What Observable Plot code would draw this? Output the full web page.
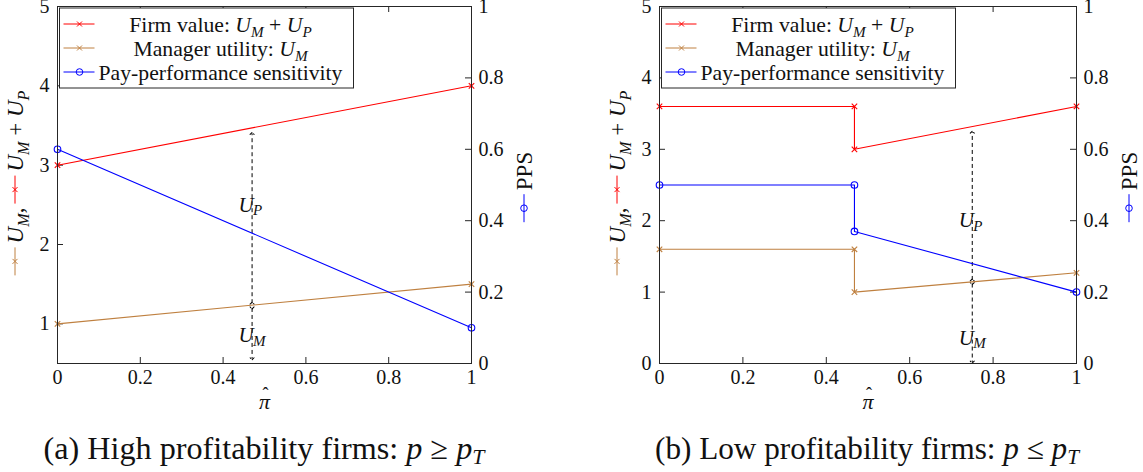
<!DOCTYPE html>
<html><head><meta charset="utf-8">
<script src="https://cdn.jsdelivr.net/npm/d3@7"></script>
<script src="https://cdn.jsdelivr.net/npm/@observablehq/plot@0.6"></script>
<style>
body{margin:0;background:#fff;font-family:"Liberation Serif","DejaVu Serif","Noto Serif","Tinos","FreeSerif","Nimbus Roman","Times New Roman",serif;}
#wrap{position:relative;width:1143px;height:472px;overflow:hidden;background:#fff;}
.panel{position:absolute;top:0;}
.cap{position:absolute;bottom:6px;font-size:29px;white-space:nowrap;transform:translateX(-50%);line-height:1.1;color:#111;}
.cap sub{font-size:0.68em;vertical-align:-0.22em;line-height:0;}
</style></head><body><div id="wrap"></div>
<script>
// ---------- data ----------
const xTicks = [0, 0.2, 0.4, 0.6, 0.8, 1];
const ppsTicks = [0, 0.2, 0.4, 0.6, 0.8, 1];

// Panel (a): high profitability
const aPi = [0, 1];
const aFirm = [3, 4];
const aMgr = [1, 1.5];
const aPPS = [0.6, 0.1];
const aLeftDomain = [0.5, 5];
const aLeftTicks = [1, 2, 3, 4, 5];
const aArrowX = 0.47;
const aArrowUP = [1.26, 3.40];
const aArrowUM = [1.20, 0.56];
const aLabelY = [2.5, 0.85];

// Panel (b): low profitability
const bPi = [0, 0.4675, 0.4675, 1];
const bFirm = [3.6, 3.6, 3.0, 3.6];
const bMgr = [1.6, 1.6, 1.0, 1.27];
const bPPS = [0.5, 0.5, 0.37, 0.2];
const bLeftDomain = [0, 5];
const bLeftTicks = [0, 1, 2, 3, 4, 5];
const bArrowX = 0.75;
const bArrowUP = [1.17, 3.24];
const bArrowUM = [1.12, 0.02];
const bLabelY = [2.0, 0.35];

const legendLabels = [
  [["Firm value: ","r"],["U","i"],["M","s"],[" + ","r"],["U","i"],["P","s"]],
  [["Manager utility: ","r"],["U","i"],["M","s"]],
  [["Pay-performance sensitivity","r"]]
];
const captions = [
  '(a) High profitability firms: <i>p</i> ≥ <i>p</i><sub><i>T</i></sub>',
  '(b) Low profitability firms: <i>p</i> ≤ <i>p</i><sub><i>T</i></sub>'
];

// ---------- style ----------
const red = "#ff0000", brown = "#bf8040", blue = "#0000ff", ink = "#262626";
const FONT = "'Liberation Serif','DejaVu Serif','Noto Serif','Tinos','FreeSerif','Nimbus Roman','Times New Roman',serif";

function mathText(sel, parts, size) {
  let shifted = false;
  for (const [t, s] of parts) {
    const ts = sel.append("tspan").text(t);
    if (s === "i" || s === "s") ts.attr("font-style", "italic");
    if (s === "s") { ts.attr("font-size", size * 0.7); if (!shifted) { ts.attr("dy", size * 0.25); shifted = true; } }
    else if (shifted) { ts.attr("dy", -size * 0.25); shifted = false; }
  }
}
function marker(g, x, y, c, m) {
  if (m === "o") g.append("circle").attr("cx", x).attr("cy", y).attr("r", 3.3).attr("fill", "none").attr("stroke", c);
  else g.append("path").attr("d", `M${x-2.5},${y-2.5}L${x+2.5},${y+2.5}M${x-2.5},${y+2.5}L${x+2.5},${y-2.5}`).attr("stroke", c);
}
function legend(svg, x0, y0) {
  const g = d3.select(svg).append("g").attr("transform", `translate(${x0},${y0})`)
    .attr("font-family", FONT).attr("fill", "#111");
  g.append("rect").attr("width", 294).attr("height", 80).attr("fill", "white").attr("stroke", ink);
  const cols = [red, brown, blue], ms = ["x", "x", "o"];
  const texts = legendLabels.map((parts, i) => {
    const y = 16 + i * 24;
    g.append("line").attr("x1", 4).attr("x2", 35).attr("y1", y).attr("y2", y).attr("stroke", cols[i]);
    marker(g, 20, y, cols[i], ms[i]);
    const t = g.append("text").attr("x", 161).attr("y", y).attr("dy", "0.35em")
      .attr("text-anchor", "middle").attr("font-size", 21);
    mathText(t, parts, 21);
    return t;
  });
  // fit the widest entry to the reference width (~244px)
  const w = texts[2].node().getComputedTextLength();
  const fs = Math.max(17, Math.min(23, 21 * 244 / w));
  texts.forEach((t, i) => { t.attr("font-size", fs); t.selectAll("tspan").remove(); mathText(t, legendLabels[i], fs); });
}
function sideLabel(svg, cx, cy, items, fs) {
  const g = d3.select(svg).append("g").attr("font-family", FONT).attr("font-size", fs)
    .attr("fill", "#111").attr("text-anchor", "start");
  let x = 0;
  for (const it of items) {
    if (it.c) {
      g.append("line").attr("x1", x).attr("x2", x + 28).attr("y1", 0).attr("y2", 0).attr("stroke", it.c);
      marker(g, x + 14, 0, it.c, it.m);
      x += 32;
    } else {
      const t = g.append("text").attr("x", x).attr("y", 0).attr("dy", "0.35em").attr("text-anchor", "start");
      mathText(t, it.parts, fs);
      x += t.node().getComputedTextLength() + 4;
    }
  }
  g.attr("transform", `translate(${cx},${cy + x / 2}) rotate(-90)`);
}

function panel(o) {
  const H = 420, mt = 6, mb = 57;
  const plotW = o.width - o.ml - o.mr, plotH = H - mt - mb;
  const [lo, hi] = o.leftDomain;
  const toLeft = p => lo + p * (hi - lo);
  const toPPS = v => (v - lo) / (hi - lo);
  const fmt = v => String(+(+v).toFixed(2));
  const rows = o.pi.map((x, i) => ({x, firm: o.firm[i], mgr: o.mgr[i], pps: toLeft(o.pps[i])}));
  const ppsL = ppsTicks.map(toLeft);
  const arrows = [{x: o.ax, y1: o.up[0], y2: o.up[1]}, {x: o.ax, y1: o.um[0], y2: o.um[1]}];
  const labels = [{x: o.ax, y: o.ly[0], main: "U", sub: "P"}, {x: o.ax, y: o.ly[1], main: "U", sub: "M"}];
  return Plot.plot({
    width: o.width, height: H, marginTop: mt, marginBottom: mb, marginLeft: o.ml, marginRight: o.mr,
    style: {fontFamily: FONT, fontSize: "20px", overflow: "visible", background: "transparent", color: "#111"},
    x: {domain: [0, 1], label: null},
    y: {domain: o.leftDomain, label: null},
    marks: [
      Plot.axisX(xTicks, {tickSize: 0, tickPadding: 6, tickFormat: fmt, label: null}),
      Plot.axisY(o.leftTicks, {anchor: "left", tickSize: 0, tickPadding: 8, tickFormat: fmt, label: null}),
      Plot.axisY(ppsL, {anchor: "right", tickSize: 0, tickPadding: 7, tickFormat: v => fmt(toPPS(v)), label: null}),
      Plot.tickX(xTicks, {x: d => d, insetTop: plotH - 6, stroke: ink}),
      Plot.tickX(xTicks, {x: d => d, insetBottom: plotH - 6, stroke: ink}),
      Plot.tickY(o.leftTicks, {y: d => d, insetRight: plotW - 6, stroke: ink}),
      Plot.tickY(ppsL, {y: d => d, insetLeft: plotW - 6, stroke: ink}),
      Plot.link(arrows, {x1: "x", x2: "x", y1: "y1", y2: "y2", stroke: "#000", strokeWidth: 1,
        strokeDasharray: "4,3", markerStart: "arrow", markerEnd: "arrow"}),
      Plot.text(labels, {x: "x", y: "y", text: "main", dx: -6, fontStyle: "italic", fontSize: 21, fill: "#111"}),
      Plot.text(labels, {x: "x", y: "y", text: "sub", dx: 1, dy: 5, textAnchor: "start", fontStyle: "italic", fontSize: 15, fill: "#111"}),
      Plot.line(rows, {x: "x", y: "mgr", stroke: brown, strokeWidth: 1.1}),
      Plot.line(rows, {x: "x", y: "firm", stroke: red, strokeWidth: 1.1}),
      Plot.line(rows, {x: "x", y: "pps", stroke: blue, strokeWidth: 1.1}),
      Plot.dot(rows, {x: "x", y: "mgr", symbol: "times", r: 2.6, stroke: brown, strokeWidth: 1.1}),
      Plot.dot(rows, {x: "x", y: "firm", symbol: "times", r: 2.6, stroke: red, strokeWidth: 1.1}),
      Plot.dot(rows, {x: "x", y: "pps", symbol: "circle", r: 3.3, stroke: blue, fill: "none", strokeWidth: 1.1}),
      Plot.frame({stroke: ink, strokeWidth: 1}),
      Plot.text(["π"], {text: d => d, frameAnchor: "bottom", dy: 45, fontStyle: "italic", fontSize: 22, fill: "#111"}),
      Plot.text(["ˆ"], {text: d => d, frameAnchor: "bottom", dy: 36, dx: 1, fontSize: 18, fill: "#111"})
    ]
  });
}

const wrap = document.getElementById("wrap");
const specs = [
  {left: 0, width: 572, ml: 57, mr: 101, pi: aPi, firm: aFirm, mgr: aMgr, pps: aPPS, leftDomain: aLeftDomain,
   leftTicks: aLeftTicks, ax: aArrowX, up: aArrowUP, um: aArrowUM, ly: aLabelY, cap: 264},
  {left: 601, width: 542, ml: 58, mr: 67, pi: bPi, firm: bFirm, mgr: bMgr, pps: bPPS, leftDomain: bLeftDomain,
   leftTicks: bLeftTicks, ax: bArrowX, up: bArrowUP, um: bArrowUM, ly: bLabelY, cap: 867}
];
specs.forEach((o, i) => {
  const svg = panel(o);
  svg.classList.add("panel");
  svg.style.left = o.left + "px";
  wrap.appendChild(svg);
  legend(svg, o.ml + 2.5, 8);
  sideLabel(svg, o.ml - 42, 181, [
    {c: brown, m: "x"},
    {parts: [["U","i"],["M","s"],[",","r"]]},
    {c: red, m: "x"},
    {parts: [["U","i"],["M","s"],[" + ","r"],["U","i"],["P","s"]]}
  ], 23);
  sideLabel(svg, o.width - o.mr + 53, 185, [
    {c: blue, m: "o"},
    {parts: [["PPS","r"]]}
  ], 23);
  const cap = document.createElement("div");
  cap.className = "cap";
  cap.style.left = o.cap + "px";
  cap.innerHTML = captions[i];
  wrap.appendChild(cap);
  // fit caption (a) width to reference (~441px)
  const w = cap.getBoundingClientRect().width;
  const target = i === 0 ? 441 : 424;
  cap.style.fontSize = Math.max(24, Math.min(34, 29 * target / w)) + "px";
});
</script></body></html>
